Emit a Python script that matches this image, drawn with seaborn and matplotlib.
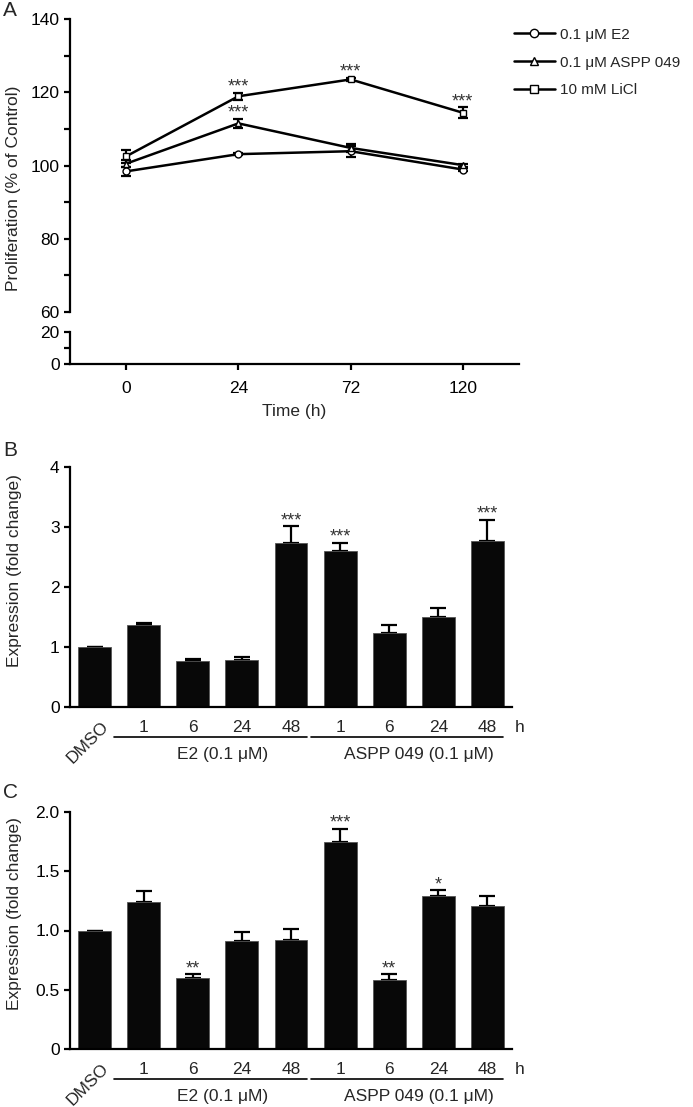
import numpy as np
import pandas as pd
import seaborn as sns
import matplotlib.pyplot as plt

# ---- Panel A: proliferation time course ----
time_labels = ['0', '24', '72', '120']
series_names = ['0.1 μM E2', '0.1 μM ASPP 049', '10 mM LiCl']
e2_prolif = [98.4, 103.1, 103.9, 98.9]
e2_prolif_err = [1.2, 0.3, 1.5, 0.5]
aspp_prolif = [100.5, 111.5, 104.8, 100.1]
aspp_prolif_err = [1.0, 1.2, 1.2, 0.4]
licl_prolif = [102.5, 118.9, 123.5, 114.4]
licl_prolif_err = [1.8, 0.9, 0.4, 1.5]
e2_stars = ['', '', '', '']
aspp_stars = ['', '***', '', '']
licl_stars = ['', '***', '***', '***']

# ---- Panels B and C: expression bars ----
bar_labels = ['DMSO', '1', '6', '24', '48', '1', '6', '24', '48']
group_names = ['E2 (0.1 μM)', 'ASPP 049 (0.1 μM)']
b_values = [1.0, 1.37, 0.76, 0.78, 2.74, 2.60, 1.24, 1.50, 2.76]
b_err = [0, 0.03, 0.04, 0.05, 0.27, 0.13, 0.13, 0.15, 0.36]
b_stars = ['', '', '', '', '***', '***', '', '', '***']
c_values = [1.0, 1.24, 0.60, 0.91, 0.92, 1.75, 0.58, 1.29, 1.21]
c_err = [0, 0.09, 0.03, 0.08, 0.09, 0.11, 0.05, 0.05, 0.08]
c_stars = ['', '', '**', '', '', '***', '**', '*', '']

sns.set_style('ticks')
plt.rcParams['font.family'] = ['Liberation Sans', 'DejaVu Sans']
plt.rcParams['axes.linewidth'] = 1.6
plt.rcParams['xtick.major.width'] = 1.6
plt.rcParams['ytick.major.width'] = 1.6
plt.rcParams['xtick.major.size'] = 4
plt.rcParams['ytick.major.size'] = 4
plt.rcParams['xtick.color'] = 'black'
plt.rcParams['ytick.color'] = 'black'
plt.rcParams['axes.edgecolor'] = 'black'

W, H = 693, 1107
fig = plt.figure(figsize=(W / 100, H / 100), dpi=100)


def add_ax(left, top, right, bottom):
    return fig.add_axes([left / W, 1 - bottom / H, (right - left) / W, (bottom - top) / H])


FS = 12.5
STAR_FS = 13

# ---------------- Panel A ----------------
ax_top = add_ax(70, 19, 519, 312)
ax_low = add_ax(70, 332, 519, 364)

df = pd.DataFrame({
    'pos': list(range(4)) * 3,
    'value': e2_prolif + aspp_prolif + licl_prolif,
    'treatment': [series_names[0]] * 4 + [series_names[1]] * 4 + [series_names[2]] * 4,
})
sns.lineplot(data=df, x='pos', y='value', hue='treatment', style='treatment',
             palette=['black'] * 3, markers=['o', '^', 's'], dashes=False,
             sort=False, legend=False, ax=ax_top, linewidth=1.8,
             markersize=5, markerfacecolor='white', markeredgecolor='black',
             markeredgewidth=1.0, zorder=3)
handles = list(ax_top.lines[:3])

all_vals = [e2_prolif, aspp_prolif, licl_prolif]
all_errs = [e2_prolif_err, aspp_prolif_err, licl_prolif_err]
all_stars = [e2_stars, aspp_stars, licl_stars]
for vals, errs, stars in zip(all_vals, all_errs, all_stars):
    ax_top.errorbar(range(4), vals, yerr=errs, fmt='none', ecolor='black',
                    elinewidth=1.6, capsize=3.5, capthick=1.6, zorder=2)
    for i, s in enumerate(stars):
        if s:
            ax_top.annotate(s, (i, vals[i] + errs[i]), xytext=(0, -2),
                            textcoords='offset points', ha='center', va='bottom',
                            fontsize=STAR_FS, color='#333333')

ax_top.set_ylim(60, 140)
ax_top.set_xlim(-0.5, 3.5)
ax_top.set_yticks(np.arange(60, 141, 10))
ax_top.set_yticklabels([str(v) if v % 20 == 0 else '' for v in range(60, 141, 10)], fontsize=FS)
ax_top.set_xticks([])
ax_top.set_xlabel('')
ax_top.set_ylabel('')
for sp in ['top', 'right', 'bottom']:
    ax_top.spines[sp].set_visible(False)

ax_low.set_ylim(0, 20)
ax_low.set_xlim(-0.5, 3.5)
ax_low.set_yticks([0, 10, 20])
ax_low.set_yticklabels(['0', '', '20'], fontsize=FS)
ax_low.set_xticks(range(4))
ax_low.set_xticklabels(time_labels, fontsize=FS)
ax_low.tick_params(axis='x', pad=8)
for sp in ['top', 'right']:
    ax_low.spines[sp].set_visible(False)
ax_low.set_xlabel('Time (h)', fontsize=FS, labelpad=6)

fig.text(14 / W, 1 - 188 / H, 'Proliferation (% of Control)', rotation=90,
         ha='center', va='center', fontsize=FS)
fig.legend(handles, series_names, loc='upper left', bbox_to_anchor=(500 / W, 1 - 14 / H),
           frameon=False, fontsize=11, handlelength=2.7, handletextpad=0.3,
           labelspacing=0.9, markerscale=1.2)
fig.text(3 / W, 1 - 11 / H, 'A', fontsize=15, va='center', ha='left')


# ---------------- Panels B and C ----------------
def bar_panel(ax, values, errs, stars, ylim, yticks, yticklabels, ylabel, ylabel_y, letter, letter_y, ax_h):
    pos = list(range(len(values)))
    sns.barplot(x=pos, y=values, color='#080808', width=0.67, ax=ax,
                edgecolor='#555555', linewidth=0.6, native_scale=True, zorder=2)
    ax.errorbar(pos, values, yerr=[[0] * len(errs), errs], fmt='none', ecolor='black',
                elinewidth=1.6, capsize=6, capthick=1.6, zorder=1)
    for i, s in enumerate(stars):
        if s:
            ax.annotate(s, (i, values[i] + errs[i]), xytext=(0, -2),
                        textcoords='offset points', ha='center', va='bottom',
                        fontsize=STAR_FS, color='#333333')
    ax.set_xlim(-0.5, len(values) - 0.5)
    ax.set_ylim(*ylim)
    ax.set_yticks(yticks)
    ax.set_yticklabels(yticklabels, fontsize=FS)
    ax.set_xticks([])
    ax.set_xlabel('')
    ax.set_ylabel('')
    for sp in ['top', 'right']:
        ax.spines[sp].set_visible(False)

    trans = ax.get_xaxis_transform()
    off = lambda px: -px / ax_h
    ax.text(0.12, off(12), bar_labels[0], rotation=45, rotation_mode='anchor',
            ha='right', va='top', fontsize=FS, transform=trans)
    for i in range(1, len(bar_labels)):
        ax.text(i, off(20), bar_labels[i], ha='center', va='center', fontsize=FS, transform=trans)
    ax.text(8.65, off(20), 'h', ha='center', va='center', fontsize=FS, transform=trans)
    for g, (a, b) in enumerate([(1, 4), (5, 8)]):
        ax.plot([a - 0.6, b + 0.32], [off(30), off(30)], color='black', lw=1.2,
                transform=trans, clip_on=False)
        ax.text((a + b) / 2 + 0.1, off(47), group_names[g], ha='center', va='center',
                fontsize=FS, transform=trans)
    fig.text(15 / W, 1 - ylabel_y / H, ylabel, rotation=90, ha='center', va='center', fontsize=FS)
    fig.text(3 / W, 1 - letter_y / H, letter, fontsize=15, va='center', ha='left')


ax_b = add_ax(70, 467, 512, 707)
bar_panel(ax_b, b_values, b_err, b_stars, (0, 4), [0, 1, 2, 3, 4], ['0', '1', '2', '3', '4'],
          'Expression (fold change)', 571, 'B', 451, 240)

ax_c = add_ax(70, 812, 512, 1049)
bar_panel(ax_c, c_values, c_err, c_stars, (0, 2), [0, 0.5, 1.0, 1.5, 2.0],
          ['0', '0.5', '1.0', '1.5', '2.0'],
          'Expression (fold change)', 914, 'C', 792, 237)

fig.savefig('out.png', dpi=100)
